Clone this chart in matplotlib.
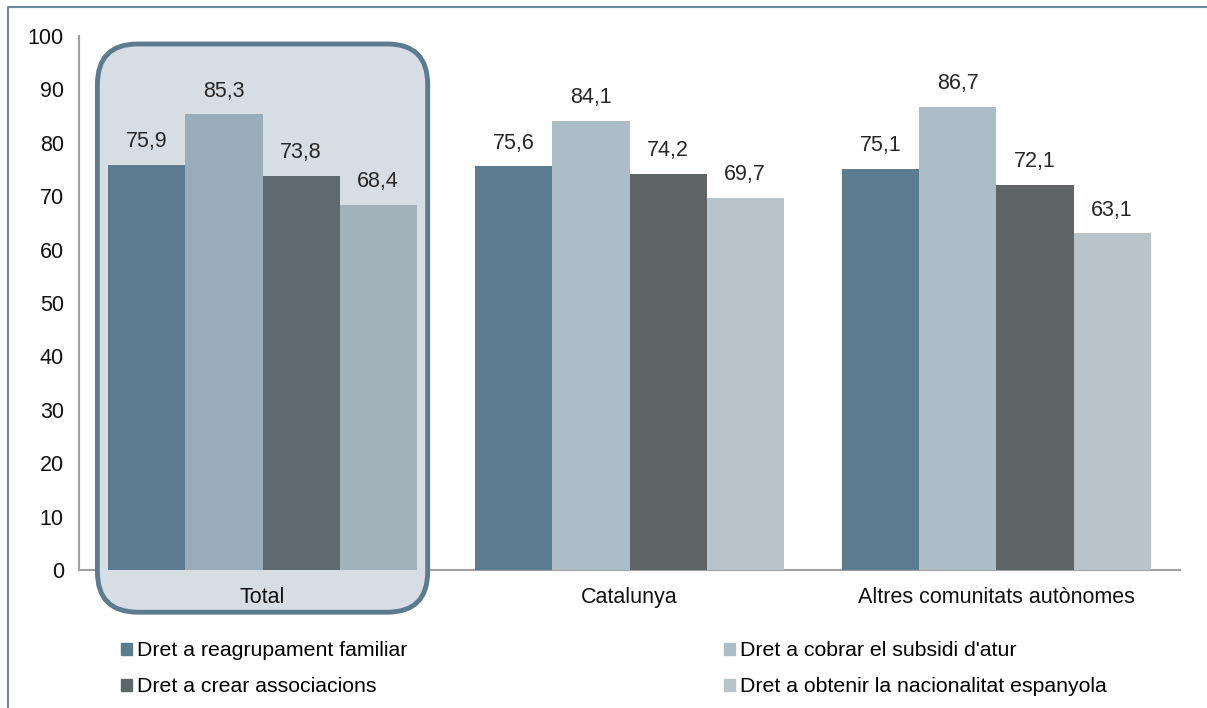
import numpy as np
import matplotlib.pyplot as plt
from matplotlib.patches import FancyBboxPatch
from matplotlib.lines import Line2D

plt.rcParams['font.family'] = ['Liberation Sans', 'DejaVu Sans']

# Data
groups = ['Total', 'Catalunya', 'Altres comunitats autònomes']
series = ['Dret a reagrupament familiar', "Dret a cobrar el subsidi d'atur",
          'Dret a crear associacions', 'Dret a obtenir la nacionalitat espanyola']
reagrupament = [75.9, 75.6, 75.1]
subsidi = [85.3, 84.1, 86.7]
associacions = [73.8, 74.2, 72.1]
nacionalitat = [68.4, 69.7, 63.1]
values = [reagrupament, subsidi, associacions, nacionalitat]

colors = ['#5b7b8f', '#adbdc8', '#5f6466', '#b8c3ca']
colors_total = ['#5c7b8e', '#98adb9', '#5f6a70', '#a2b1ba']

fig = plt.figure(figsize=(12.07, 7.08), dpi=100)
ax = fig.add_axes([0.0655, 0.1949, 0.9121, 0.7543])

x = np.arange(len(groups))
width = 0.21
for i, vals in enumerate(values):
    cols = [colors_total[i]] + [colors[i]] * (len(groups) - 1)
    pos = x + (i - 1.5) * width
    ax.bar(pos, vals, width, color=cols, zorder=3, label=series[i])
    for xp, v in zip(pos, vals):
        ax.annotate(f'{v:.1f}'.replace('.', ','), (xp, v), xytext=(0, 9),
                    textcoords='offset points', ha='center', va='bottom',
                    fontsize=15.5, color='#262626', zorder=5)

ax.set_xlim(-0.5, 2.5)
ax.set_ylim(0, 100)
ax.set_yticks(range(0, 101, 10))
ax.set_xticks(x)
ax.set_xticklabels([])
ax.tick_params(axis='both', length=0, labelsize=15.5, colors='#111111')
ax.tick_params(axis='y', pad=11)
for s in ['top', 'right']:
    ax.spines[s].set_visible(False)
for s in ['left', 'bottom']:
    ax.spines[s].set_color('#a0a0a0')
    ax.spines[s].set_linewidth(1.5)

# group labels (drawn as text so they sit above the highlight box)
for xp, g in zip(x, groups):
    ax.annotate(g, (xp, 0), xytext=(0, -12), textcoords='offset points',
                ha='center', va='top', fontsize=15.5, color='#111111',
                zorder=6, annotation_clip=False)

# highlight box around Total
fig.canvas.draw()
bb = ax.get_window_extent()
xpx = bb.width / 3.0
ypx = bb.height / 100.0
aspect = xpx / ypx
box = FancyBboxPatch((-0.45, -7.9), 0.90, 106.4,
                     boxstyle='round,pad=0,rounding_size=0.11',
                     mutation_aspect=aspect, facecolor='#d6dee4',
                     edgecolor='#5b7b8f', linewidth=3.5, zorder=2.7,
                     clip_on=False)
ax.add_patch(box)

order = [0, 2, 1, 3]
handles = [plt.Rectangle((0, 0), 1, 1, color=colors[k]) for k in order]
leg = fig.legend(handles, [series[k] for k in order], ncol=2,
                 loc='upper left', bbox_to_anchor=(0.1, 0.094),
                 frameon=False, fontsize=15.3, handlelength=0.55,
                 handleheight=0.55, handletextpad=0.2, columnspacing=14.9,
                 labelspacing=0.8, borderaxespad=0, borderpad=0)

# outer frame (left and top)
fy = 1 - 7 / 708
fx = 8 / 1207
fig.add_artist(Line2D([fx, fx, 1], [0, fy, fy], color='#6b8a9c', lw=1.5))

fig.savefig('out.png', dpi=100)
